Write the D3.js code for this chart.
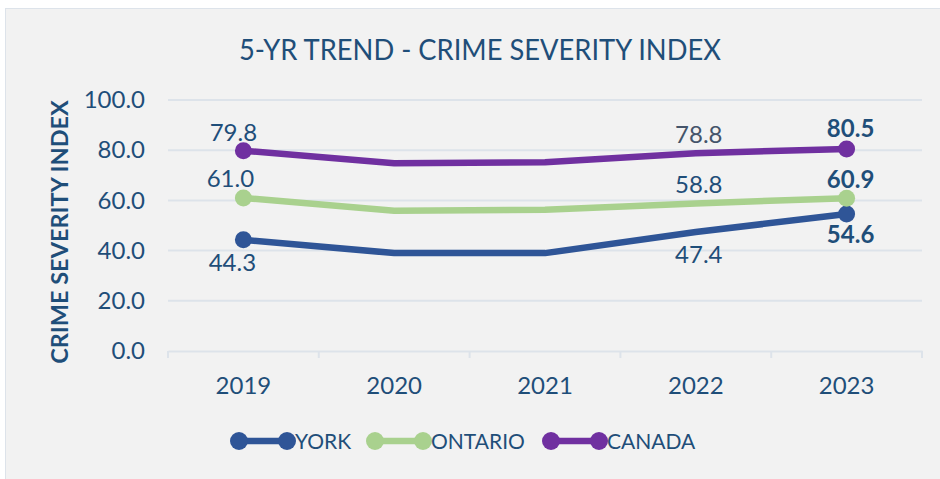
<!DOCTYPE html>
<html>
<head>
<meta charset="utf-8">
<script src="https://cdn.jsdelivr.net/npm/d3@7"></script>
<style>
  body { margin: 0; background: #fff; }
  text { font-family: Lato, "Open Sans", sans-serif; }
</style>
</head>
<body>
<div id="chart"></div>
<script>
// data
var years = ["2019", "2020", "2021", "2022", "2023"];
var york = [44.3, 39.0, 39.0, 47.4, 54.6];
var ontario = [61.0, 55.9, 56.3, 58.8, 60.9];
var canada = [79.8, 74.8, 75.2, 78.8, 80.5];
var seriesNames = ["YORK", "ONTARIO", "CANADA"];
var seriesColors = ["#2f5597", "#a9d18e", "#7030a0"];
var yTicks = [0, 20, 40, 60, 80, 100];

var W = 940, H = 479;
var plotLeft = 168, plotRight = 922, plotTop = 100, plotBottom = 351;
var textBlue = "#1f4e79";

var svg = d3.select("#chart").append("svg")
  .attr("width", W).attr("height", H);

// chart area background
svg.append("rect")
  .attr("x", 5.5).attr("y", 8.5)
  .attr("width", W).attr("height", H)
  .attr("fill", "#f2f2f2")
  .attr("stroke", "#dde3ea");

svg.append("text")
  .attr("x", 480).attr("y", 60)
  .attr("text-anchor", "middle")
  .attr("font-size", 28)
  .attr("textLength", 482)
  .attr("lengthAdjust", "spacingAndGlyphs")
  .attr("fill", textBlue)
  .text("5-YR TREND - CRIME SEVERITY INDEX");

var x = d3.scaleBand().domain(years).range([plotLeft, plotRight]);
var y = d3.scaleLinear().domain([0, 100]).range([plotBottom, plotTop]);

// gridlines
svg.append("g").selectAll("line")
  .data(yTicks.filter(function(d) { return d > 0; }))
  .enter().append("line")
  .attr("x1", plotLeft).attr("x2", plotRight)
  .attr("y1", function(d) { return y(d); })
  .attr("y2", function(d) { return y(d); })
  .attr("stroke", "#dde3ea").attr("stroke-width", 2);

// y axis labels
var yAxis = svg.append("g")
  .attr("transform", "translate(" + plotLeft + ",0)")
  .call(d3.axisLeft(y).tickValues(yTicks).tickFormat(d3.format(".1f")).tickSize(0).tickPadding(23));
yAxis.select(".domain").remove();
yAxis.selectAll("text")
  .attr("font-size", 24)
  .attr("font-family", "Lato")
  .attr("fill", textBlue);

// x axis with category boundary ticks
var xAxis = svg.append("g")
  .attr("transform", "translate(0," + plotBottom + ")")
  .call(d3.axisBottom(x).tickSize(0).tickPadding(26));
xAxis.select(".domain").attr("stroke", "#dde3ea").attr("stroke-width", 2);
xAxis.selectAll("text")
  .attr("font-size", 24)
  .attr("font-family", "Lato")
  .attr("fill", textBlue);
var bounds = years.map(function(d) { return x(d); }).concat([plotRight]);
svg.append("g").selectAll("line")
  .data(bounds).enter().append("line")
  .attr("x1", function(d) { return d; }).attr("x2", function(d) { return d; })
  .attr("y1", plotBottom).attr("y2", plotBottom + 7)
  .attr("stroke", "#dde3ea").attr("stroke-width", 2);

// y axis title
svg.append("text")
  .attr("transform", "translate(68,232) rotate(-90)")
  .attr("text-anchor", "middle")
  .attr("font-size", 23.5)
  .attr("font-weight", "bold")
  .attr("fill", textBlue)
  .text("CRIME SEVERITY INDEX");

var cx = function(i) { return x(years[i]) + x.bandwidth() / 2; };
var line = d3.line()
  .x(function(d, i) { return cx(i); })
  .y(function(d) { return y(d); });

var allSeries = [york, ontario, canada];
allSeries.forEach(function(vals, s) {
  svg.append("path")
    .datum(vals)
    .attr("d", line)
    .attr("fill", "none")
    .attr("stroke", seriesColors[s])
    .attr("stroke-width", 6.5)
    .attr("stroke-linejoin", "round");
  // markers on first and last point
  [0, vals.length - 1].forEach(function(i) {
    svg.append("circle")
      .attr("cx", cx(i)).attr("cy", y(vals[i]))
      .attr("r", 8.5)
      .attr("fill", seriesColors[s]);
  });
});

// data labels: series, index, dx, dy, bold, colour
var labels = [
  [canada, 0, -10, -10, false, textBlue],
  [ontario, 0, -13, -11, false, textBlue],
  [york, 0, -11, 31, false, textBlue],
  [canada, 3, 3, -10, false, "#44546a"],
  [ontario, 3, 3, -10, false, textBlue],
  [york, 3, 3, 31, false, textBlue],
  [canada, 4, 4, -12, true, textBlue],
  [ontario, 4, 4, -10, true, textBlue],
  [york, 4, 4, 29, true, textBlue]
];
svg.append("g").selectAll("text")
  .data(labels).enter().append("text")
  .attr("x", function(d) { return cx(d[1]) + d[2]; })
  .attr("y", function(d) { return y(d[0][d[1]]) + d[3]; })
  .attr("text-anchor", "middle")
  .attr("font-size", 24)
  .attr("font-weight", function(d) { return d[4] ? "bold" : "normal"; })
  .attr("fill", function(d) { return d[5]; })
  .text(function(d) { return d[0][d[1]].toFixed(1); });

// legend
var legendX = [239, 375, 551];
var legend = svg.append("g").selectAll("g")
  .data(seriesNames).enter().append("g")
  .attr("transform", function(d, i) { return "translate(" + legendX[i] + ",441)"; });
legend.append("line")
  .attr("x1", 0).attr("x2", 48)
  .attr("stroke", function(d, i) { return seriesColors[i]; })
  .attr("stroke-width", 6.5);
legend.append("circle").attr("cx", 0).attr("r", 9)
  .attr("fill", function(d, i) { return seriesColors[i]; });
legend.append("circle").attr("cx", 48).attr("r", 9)
  .attr("fill", function(d, i) { return seriesColors[i]; });
legend.append("text")
  .attr("x", 56).attr("y", 8)
  .attr("font-size", 21)
  .attr("fill", textBlue)
  .text(function(d) { return d; });
</script>
</body>
</html>
